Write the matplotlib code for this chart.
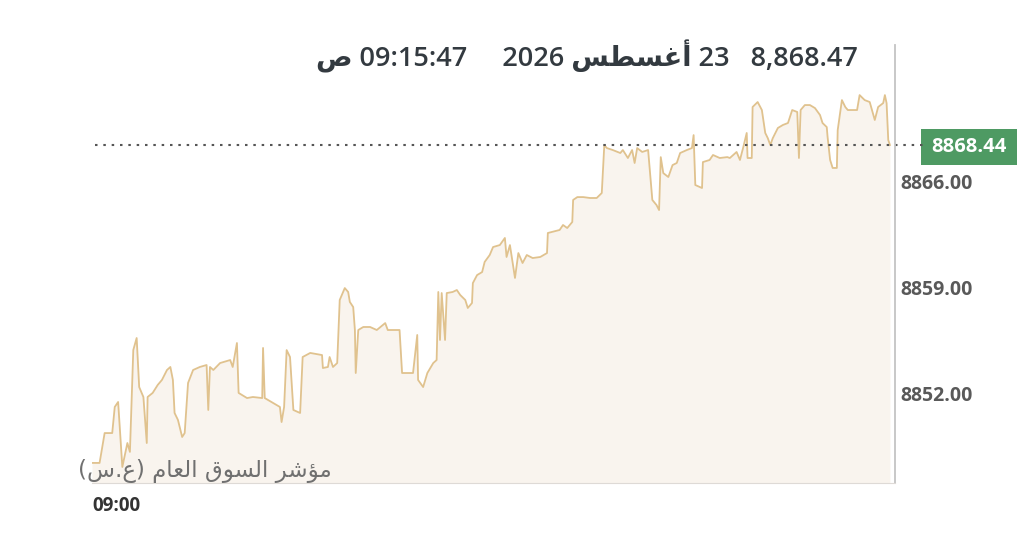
import matplotlib
matplotlib.use('Agg')
import matplotlib.pyplot as plt
import matplotlib.transforms as mtransforms
from matplotlib.patches import Rectangle

# seconds after 09:00 and index level
secs = [0, 9, 15, 24, 27, 31, 36, 42, 45, 49, 53, 56, 61, 65, 66, 72, 78, 83, 89, 93,
        96, 98, 102, 107, 110, 114, 120, 128, 136, 138, 140, 144, 152, 164, 167, 172, 174, 184, 191, 202,
        203, 205, 215, 223, 225, 228, 231, 235, 239, 247, 250, 259, 273, 274, 280, 282, 286, 291, 294, 300,
        304, 306, 310, 312, 313, 316, 322, 330, 338, 348, 351, 365, 368, 381, 386, 387, 393, 398, 405, 409,
        411, 413, 415, 419, 421, 428, 433, 437, 443, 446, 451, 452, 457, 463, 466, 472, 476, 484, 490, 492,
        496, 502, 506, 511, 516, 523, 532, 540, 541, 555, 559, 564, 570, 571, 576, 583, 591, 599, 605, 608,
        611, 618, 627, 630, 636, 641, 644, 647, 653, 660, 665, 670, 673, 675, 678, 684, 689, 694, 698, 706,
        712, 714, 716, 724, 725, 733, 737, 745, 754, 757, 765, 769, 773, 777, 778, 783, 784, 790, 795, 799,
        802, 805, 808, 814, 820, 826, 831, 837, 839, 841, 846, 852, 858, 864, 867, 872, 873, 876, 879, 884,
        885, 890, 894, 897, 908, 911, 917, 923, 929, 933, 939, 941, 943, 945, 947]
level = [8847.37, 8847.37, 8849.35, 8849.35, 8851.08, 8851.41, 8847.10, 8848.69, 8848.10, 8854.85,
         8855.65, 8852.40, 8851.74, 8848.69, 8851.74, 8852.01, 8852.54, 8852.87, 8853.53, 8853.73,
         8852.87, 8850.68, 8850.22, 8849.09, 8849.35, 8852.67, 8853.53, 8853.73, 8853.86, 8850.88,
         8853.73, 8853.53, 8853.99, 8854.19, 8853.73, 8855.32, 8852.01, 8851.67, 8851.74, 8851.67,
         8854.99, 8851.67, 8851.34, 8851.08, 8850.08, 8851.08, 8854.85, 8854.39, 8850.88, 8850.68,
         8854.39, 8854.66, 8854.52, 8853.66, 8853.73, 8854.39, 8853.73, 8853.99, 8858.17, 8858.96,
         8858.70, 8858.04, 8857.70, 8856.18, 8853.33, 8856.18, 8856.38, 8856.38, 8856.18, 8856.64,
         8856.18, 8856.18, 8853.33, 8853.33, 8855.85, 8852.87, 8852.40, 8853.33, 8853.99, 8854.19,
         8858.70, 8855.52, 8858.63, 8855.52, 8858.63, 8858.70, 8858.83, 8858.50, 8858.17, 8857.64,
         8857.97, 8859.29, 8859.82, 8860.02, 8860.69, 8861.15, 8861.68, 8861.81, 8862.28, 8861.02,
         8861.81, 8859.63, 8861.28, 8860.62, 8861.15, 8860.95, 8861.02, 8861.28, 8862.61, 8862.81,
         8863.14, 8862.94, 8863.34, 8864.80, 8864.99, 8864.99, 8864.93, 8864.93, 8865.26, 8868.44,
         8868.24, 8868.11, 8867.91, 8868.11, 8867.58, 8868.11, 8867.25, 8868.24, 8867.98, 8868.11,
         8864.80, 8864.46, 8864.13, 8867.64, 8866.58, 8866.32, 8867.11, 8867.25, 8867.91, 8868.11,
         8868.24, 8869.10, 8865.79, 8865.59, 8867.31, 8867.45, 8867.78, 8867.58, 8867.64, 8867.58,
         8867.98, 8867.45, 8868.31, 8869.24, 8867.58, 8867.58, 8870.96, 8871.29, 8870.76, 8869.24,
         8868.90, 8868.44, 8868.90, 8869.57, 8869.77, 8869.90, 8870.76, 8870.63, 8867.58, 8870.76,
         8871.09, 8871.09, 8870.89, 8870.43, 8869.90, 8869.63, 8868.97, 8867.45, 8866.92, 8866.92,
         8869.43, 8871.42, 8870.96, 8870.76, 8870.76, 8871.75, 8871.42, 8871.29, 8870.10, 8870.96,
         8871.22, 8871.75, 8871.22, 8868.77, 8868.44]

y_ticks = [8852, 8859, 8866]
x_tick_label = '09:00'
index_name = 'مؤشر السوق العام (ع.س)'
header_value = '8,868.47'
header_day = '23'
header_month = 'أغسطس'
header_year = '2026'
header_time = '09:15:47'
header_ampm = 'ص'

# matplotlib does no arabic shaping, so pick presentation forms by hand
# (isolated, final, initial, medial)
FORMS = {
    'ا': ('\ufe8d', '\ufe8e', None, None),
    'أ': ('\ufe83', '\ufe84', None, None),
    'ؤ': ('\ufe85', '\ufe86', None, None),
    'ر': ('\ufead', '\ufeae', None, None),
    'و': ('\ufeed', '\ufeee', None, None),
    'م': ('\ufee1', '\ufee2', '\ufee3', '\ufee4'),
    'ش': ('\ufeb5', '\ufeb6', '\ufeb7', '\ufeb8'),
    'ل': ('\ufedd', '\ufede', '\ufedf', '\ufee0'),
    'س': ('\ufeb1', '\ufeb2', '\ufeb3', '\ufeb4'),
    'ق': ('\ufed5', '\ufed6', '\ufed7', '\ufed8'),
    'ع': ('\ufec9', '\ufeca', '\ufecb', '\ufecc'),
    'غ': ('\ufecd', '\ufece', '\ufecf', '\ufed0'),
    'ط': ('\ufec1', '\ufec2', '\ufec3', '\ufec4'),
    'ص': ('\ufeb9', '\ufeba', '\ufebb', '\ufebc'),
}
MIRROR = {'(': ')', ')': '('}


def rtl(text):
    out = []
    for i, c in enumerate(text):
        if c not in FORMS:
            out.append(MIRROR.get(c, c))
            continue
        prev = text[i - 1] if i > 0 else ''
        nxt = text[i + 1] if i + 1 < len(text) else ''
        join_prev = prev in FORMS and FORMS[prev][2] is not None
        join_next = FORMS[c][2] is not None and nxt in FORMS
        iso, fin, ini, med = FORMS[c]
        if join_prev and join_next:
            out.append(med)
        elif join_prev:
            out.append(fin)
        elif join_next:
            out.append(ini)
        else:
            out.append(iso)
    return ''.join(reversed(out))


fig = plt.figure(figsize=(10.24, 5.52), dpi=100)
ax = fig.add_axes([92 / 1024, 1 - 483 / 552, 803 / 1024, 438 / 552])

ymin, ymax = 8846.04, 8875.07
ax.fill_between(secs, level, ymin, color='#f9f4ee', lw=0)
ax.plot(secs, level, color='#e0c28e', lw=1.3)
ax.set_xlim(0, 953)
ax.set_ylim(ymin, ymax)

last = level[-1]
blend = mtransforms.blended_transform_factory(ax.transAxes, ax.transData)
ax.plot([0.004, 1.036], [last, last], transform=blend, color='#555555', lw=1.5,
        ls=(0, (1.2, 2.8)), clip_on=False)
box_h = 36 / 438 * (ymax - ymin)
ax.add_patch(Rectangle((1.0324, last - box_h / 2 - 0.15), 96 / 803, box_h, transform=blend,
                       facecolor='#4e9a63', edgecolor='none', clip_on=False))
ax.text(1.0324 + 48 / 803, last - 0.15, f'{last:.2f}', transform=blend, ha='center', va='center',
        color='white', fontsize=14.5, fontweight='bold', family='Open Sans')

for side in ['top', 'left']:
    ax.spines[side].set_visible(False)
ax.spines['right'].set_color('#c4c4c4')
ax.spines['right'].set_linewidth(1.3)
ax.spines['bottom'].set_color('#dedad6')

ax.yaxis.tick_right()
ax.set_yticks(y_ticks)
ax.set_yticklabels([f'{t:.2f}' for t in y_ticks], fontweight='bold', family='Open Sans',
                   color='#595959', fontsize=14)
ax.tick_params(axis='y', length=0, pad=4)
ax.set_xticks([])

fig.text(92 / 1024, 1 - 506 / 552, x_tick_label, ha='left', va='center', fontsize=13.5,
         fontweight='bold', color='#333333', family='Open Sans')
fig.text(78 / 1024, 1 - 471 / 552, rtl(index_name), ha='left', va='center', fontsize=16.5,
         color='#707070', family=['DejaVu Sans'])

header = (f'{rtl(header_ampm)} {header_time}     {header_year} {rtl(header_month)} '
          f'{header_day}   {header_value}')
fig.text(858 / 1024, 1 - 57 / 552, header, ha='right', va='center', fontsize=19.5,
         fontweight='semibold', color='#333a40', family=['Open Sans', 'DejaVu Sans'])

fig.savefig('out.png', dpi=100)
